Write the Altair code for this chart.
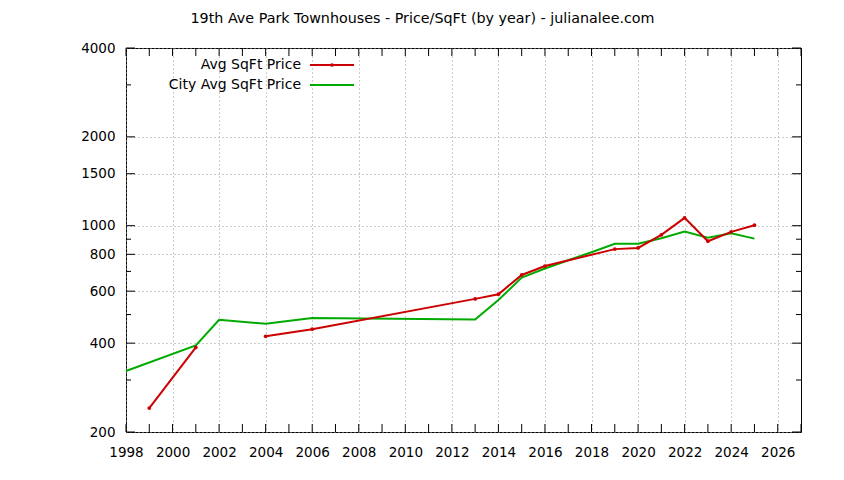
import altair as alt
import pandas as pd

# ---- data ----
avg_years = [1999, 2001, 2004, 2006, 2013, 2014, 2015, 2016, 2019, 2020, 2021, 2022, 2023, 2024, 2025]
avg_price = [241, 387, 422, 446, 565, 586, 681, 730, 833, 841, 931, 1063, 886, 953, 1004]
avg_segment = [1, 1, 2, 2, 2, 2, 2, 2, 2, 2, 2, 2, 2, 2, 2]

city_years = [1998, 2001, 2002, 2004, 2006, 2013, 2014, 2015, 2016, 2017, 2018, 2019, 2020, 2021, 2022, 2023, 2024, 2025]
city_price = [322, 393, 480, 465, 487, 481, 560, 667, 716, 764, 813, 869, 869, 907, 955, 911, 943, 904]

x_ticks = list(range(1998, 2028))
y_major = [200, 400, 600, 800, 1000, 1500, 2000, 4000]
y_minor = [300, 500, 700, 900, 3000]

legend_labels = ["Avg SqFt Price", "City Avg SqFt Price"]
RED = "#cc0000"
GREEN = "#00aa00"
FONT = "DejaVu Sans"

W, H = 675, 384

avg_df = pd.DataFrame({"year": avg_years, "price": avg_price, "seg": avg_segment})
city_df = pd.DataFrame({"year": city_years, "price": city_price})
xt_df = pd.DataFrame({"year": x_ticks})
ymaj_df = pd.DataFrame({"price": y_major})
ymin_df = pd.DataFrame({"price": y_minor})

xscale = alt.Scale(domain=[1998, 2027], nice=False, zero=False)
yscale = alt.Scale(type="log", domain=[200, 4000], nice=False)

xaxis = alt.Axis(
    values=x_ticks, format="d", title=None, ticks=False, domain=False,
    labelExpr="datum.value % 2 == 0 ? datum.label : ''",
    grid=True, gridDash=[1, 3], gridColor="#999999", gridWidth=1,
    labelPadding=13, labelFlush=False,
)
yaxis = alt.Axis(
    values=y_major, format="d", title=None, ticks=False, domain=False,
    grid=True, gridDash=[1, 3], gridColor="#999999", gridWidth=1,
    labelPadding=11,
)

base_city = alt.Chart(city_df).mark_line(color=GREEN, strokeWidth=2).encode(
    x=alt.X("year:Q", scale=xscale, axis=xaxis),
    y=alt.Y("price:Q", scale=yscale, axis=yaxis),
)

avg_line = alt.Chart(avg_df).mark_line(color=RED, strokeWidth=2).encode(
    x=alt.X("year:Q", scale=xscale),
    y=alt.Y("price:Q", scale=yscale),
    detail="seg:N",
)
avg_pts = alt.Chart(avg_df).mark_point(color=RED, filled=True, size=14, opacity=1).encode(
    x=alt.X("year:Q", scale=xscale),
    y=alt.Y("price:Q", scale=yscale),
)

# inward ticks (gnuplot style, on all four sides)
xt_bottom = alt.Chart(xt_df).mark_rule(color="black", strokeWidth=1).encode(
    x=alt.X("year:Q", scale=xscale), y=alt.value(H), y2=alt.value(H - 8))
xt_top = alt.Chart(xt_df).mark_rule(color="black", strokeWidth=1).encode(
    x=alt.X("year:Q", scale=xscale), y=alt.value(0), y2=alt.value(8))
ymaj_left = alt.Chart(ymaj_df).mark_rule(color="black", strokeWidth=1).encode(
    y=alt.Y("price:Q", scale=yscale), x=alt.value(0), x2=alt.value(9))
ymaj_right = alt.Chart(ymaj_df).mark_rule(color="black", strokeWidth=1).encode(
    y=alt.Y("price:Q", scale=yscale), x=alt.value(W), x2=alt.value(W - 9))
ymin_left = alt.Chart(ymin_df).mark_rule(color="black", strokeWidth=1).encode(
    y=alt.Y("price:Q", scale=yscale), x=alt.value(0), x2=alt.value(5))
ymin_right = alt.Chart(ymin_df).mark_rule(color="black", strokeWidth=1).encode(
    y=alt.Y("price:Q", scale=yscale), x=alt.value(W), x2=alt.value(W - 5))

# key (text left of sample, gnuplot style)
key0 = pd.DataFrame({"label": [legend_labels[0]]})
key1 = pd.DataFrame({"label": [legend_labels[1]]})
key_text0 = alt.Chart(key0).mark_text(align="right", baseline="middle", font=FONT, fontSize=14, color="black").encode(
    text="label:N", x=alt.value(175), y=alt.value(17))
key_text1 = alt.Chart(key1).mark_text(align="right", baseline="middle", font=FONT, fontSize=14, color="black").encode(
    text="label:N", x=alt.value(175), y=alt.value(37))
key_red = alt.Chart(key0).mark_rule(color=RED, strokeWidth=2).encode(
    x=alt.value(184), x2=alt.value(228), y=alt.value(17))
key_red_pt = alt.Chart(key0).mark_point(color=RED, filled=True, size=14, opacity=1).encode(
    x=alt.value(206), y=alt.value(17))
key_green = alt.Chart(key1).mark_rule(color=GREEN, strokeWidth=2).encode(
    x=alt.value(184), x2=alt.value(228), y=alt.value(37))

chart = alt.layer(
    base_city, avg_line, avg_pts,
    xt_bottom, xt_top, ymaj_left, ymaj_right, ymin_left, ymin_right,
    key_text0, key_text1, key_red, key_red_pt, key_green,
).properties(
    width=W, height=H,
    title=alt.TitleParams(
        text="19th Ave Park Townhouses - Price/SqFt (by year) - julianalee.com",
        font=FONT, fontSize=14.3, fontWeight="normal", color="black",
        anchor="middle", dx=-41, offset=15,
    ),
    padding={"left": 118, "top": 40, "right": 28, "bottom": 40},
    autosize=alt.AutoSizeParams(type="none"),
).configure_view(
    stroke="black", strokeWidth=1,
).configure_axis(
    labelFont=FONT, labelFontSize=13.5, labelColor="black",
)

chart.save("out.html", embed_options={"renderer": "svg", "actions": False})
